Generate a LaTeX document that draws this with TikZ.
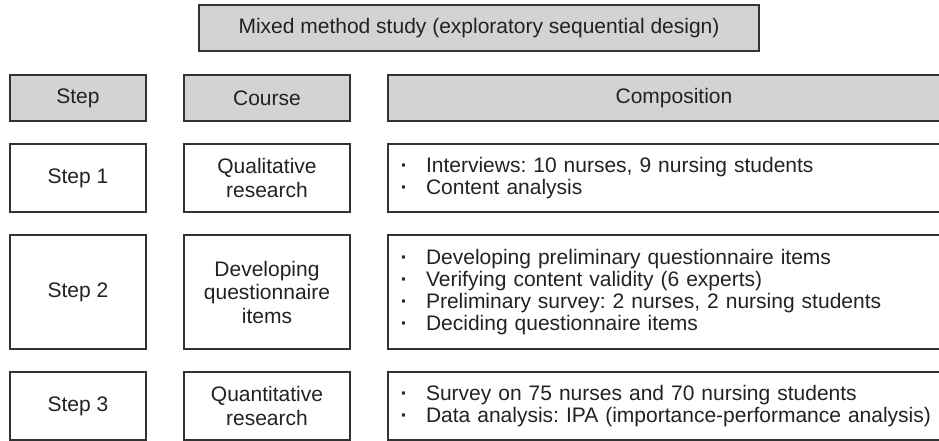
\documentclass[tikz,border=0pt]{standalone}
\usepackage{fontspec}
\setmainfont{Liberation Sans}
\frenchspacing
\definecolor{boxline}{HTML}{333333}
\definecolor{headfill}{HTML}{D2D3D5}
\definecolor{inktext}{HTML}{222222}
\newcommand{\dotitem}{\makebox[12pt][c]{\bfseries ·}\hspace{16pt}}
\tikzset{
  cellbox/.style={draw=boxline, line width=1.3pt, text=inktext, align=center,
    inner sep=0pt, font=\fontsize{21}{23.5}\selectfont},
  headbox/.style={cellbox, fill=headfill},
  listbox/.style={cellbox, align=left, inner xsep=10pt, text width=552pt,
    font=\fontsize{21}{22}\selectfont}
}
\begin{document}
\begin{tikzpicture}[x=1pt, y=-1pt]
      \useasboundingbox (0,0) rectangle (939,440);
      \clip (0,0) rectangle (939,440);
      \node[headbox, minimum width=560pt, minimum height=46pt] (study) at (479,28)
        {Mixed method study (exploratory sequential design)};
      % header row
      \node[headbox, minimum width=136pt, minimum height=46pt] (hstep) at (78,98) {Step};
      \node[headbox, minimum width=166pt, minimum height=46pt] (hcourse) at (267,98) {Course};
      \node[headbox, minimum width=572pt, minimum height=46pt] (hcomp) at (674,98) {Composition};
      % step 1
      \node[cellbox, minimum width=136pt, minimum height=68pt] (step1) at (78,178) {Step 1};
      \node[cellbox, minimum width=166pt, minimum height=68pt] (course1) at (267,178)
        {Qualitative\\research};
      \node[listbox, minimum width=572pt, minimum height=68pt] (comp1) at (674,178)
        {\dotitem Interviews: 10 nurses, 9 nursing students\\
         \dotitem Content analysis};
      % step 2
      \node[cellbox, minimum width=136pt, minimum height=114pt] (step2) at (78,292) {Step 2};
      \node[cellbox, minimum width=166pt, minimum height=114pt] (course2) at (267,292)
        {Developing\\questionnaire\\items};
      \node[listbox, minimum width=572pt, minimum height=114pt] (comp2) at (674,292)
        {\dotitem Developing preliminary questionnaire items\\
         \dotitem Verifying content validity (6 experts)\\
         \dotitem Preliminary survey: 2 nurses, 2 nursing students\\
         \dotitem Deciding questionnaire items};
      % step 3
      \node[cellbox, minimum width=136pt, minimum height=68pt] (step3) at (78,406) {Step 3};
      \node[cellbox, minimum width=166pt, minimum height=68pt] (course3) at (267,406)
        {Quantitative\\research};
      \node[listbox, minimum width=572pt, minimum height=68pt] (comp3) at (674,406)
        {\dotitem Survey on 75 nurses and 70 nursing students\\
         \dotitem Data analysis: IPA (importance-performance analysis)};
    \end{tikzpicture}
\end{document}
